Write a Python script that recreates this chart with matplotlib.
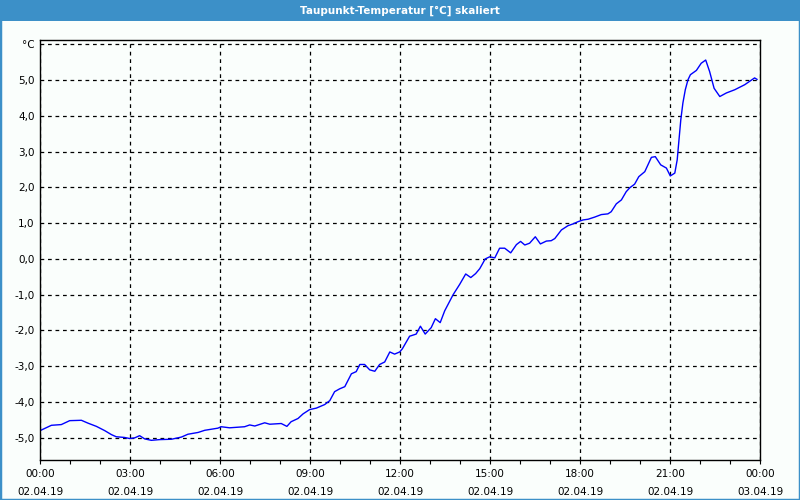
import matplotlib
matplotlib.use("Agg")
import matplotlib.pyplot as plt
from matplotlib.patches import Rectangle

# ---- data (hours since 02.04.19 00:00, dew point in °C) ----
hours = [0.0, 0.38, 0.71, 0.99, 1.38, 1.6, 1.88, 2.16, 2.38, 2.54, 2.82, 2.99,
         3.16, 3.32, 3.49, 3.71, 3.99, 4.38, 4.71, 4.93, 5.27, 5.49, 5.93, 6.04,
         6.32, 6.82, 6.99, 7.16, 7.49, 7.66, 8.04, 8.23, 8.37, 8.6, 8.77, 8.99,
         9.21, 9.49, 9.66, 9.82, 9.99, 10.16, 10.38, 10.54, 10.66, 10.82, 10.99,
         11.16, 11.32, 11.49, 11.66, 11.82, 11.99, 12.08, 12.32, 12.54, 12.68,
         12.84, 13.04, 13.18, 13.34, 13.49, 13.77, 13.99, 14.19, 14.36, 14.52,
         14.66, 14.84, 14.99, 15.16, 15.32, 15.49, 15.69, 15.88, 16.02, 16.16,
         16.32, 16.51, 16.68, 16.88, 17.04, 17.16, 17.38, 17.6, 17.77, 17.93,
         18.1, 18.27, 18.49, 18.71, 18.93, 19.04, 19.21, 19.38, 19.54, 19.66,
         19.82, 19.96, 20.16, 20.38, 20.51, 20.69, 20.88, 21.01, 21.16, 21.24,
         21.29, 21.36, 21.43, 21.51, 21.6, 21.68, 21.88, 22.04, 22.19, 22.32,
         22.47, 22.66, 22.88, 23.16, 23.49, 23.82, 23.9]
dewpoint = [-4.80, -4.65, -4.63, -4.52, -4.51, -4.59, -4.68, -4.80, -4.91, -4.97,
            -4.99, -5.02, -5.00, -4.94, -5.03, -5.07, -5.05, -5.04, -4.98, -4.90,
            -4.85, -4.79, -4.73, -4.69, -4.72, -4.69, -4.64, -4.67, -4.58, -4.62,
            -4.60, -4.68, -4.55, -4.46, -4.33, -4.21, -4.17, -4.07, -3.96, -3.71,
            -3.63, -3.57, -3.21, -3.15, -2.95, -2.95, -3.10, -3.14, -2.95, -2.88,
            -2.60, -2.66, -2.60, -2.51, -2.16, -2.10, -1.88, -2.10, -1.92, -1.67,
            -1.78, -1.45, -1.00, -0.71, -0.42, -0.52, -0.41, -0.27, 0.00, 0.06,
            0.03, 0.30, 0.30, 0.17, 0.40, 0.49, 0.39, 0.44, 0.62, 0.42, 0.50,
            0.51, 0.57, 0.81, 0.93, 0.98, 1.04, 1.09, 1.11, 1.17, 1.24, 1.26,
            1.32, 1.54, 1.65, 1.88, 1.99, 2.09, 2.30, 2.44, 2.84, 2.86, 2.63,
            2.54, 2.32, 2.40, 2.77, 3.24, 3.89, 4.36, 4.73, 5.01, 5.15, 5.27,
            5.47, 5.56, 5.24, 4.77, 4.54, 4.64, 4.73, 4.87, 5.06, 5.02]

x_ticks = [0, 3, 6, 9, 12, 15, 18, 21, 24]
x_tick_labels = ["00:00\n02.04.19", "03:00\n02.04.19", "06:00\n02.04.19",
                 "09:00\n02.04.19", "12:00\n02.04.19", "15:00\n02.04.19",
                 "18:00\n02.04.19", "21:00\n02.04.19", "00:00\n03.04.19"]
y_ticks = [-5, -4, -3, -2, -1, 0, 1, 2, 3, 4, 5, 6]
y_tick_labels = ["-5,0", "-4,0", "-3,0", "-2,0", "-1,0", "0,0", "1,0", "2,0",
                 "3,0", "4,0", "5,0", "°C"]
title = "Taupunkt-Temperatur [°C] skaliert"

plt.rcParams['font.family'] = ['DejaVu Sans']
fig = plt.figure(figsize=(8, 5), dpi=100)
fig.patch.set_facecolor('#FAFEFC')

# border and title bar
fig.patches.append(Rectangle((0, 0), 1, 1, transform=fig.transFigure,
                             facecolor='none', edgecolor='#3C90C8', linewidth=2.5))
fig.patches.append(Rectangle((0, 1 - 21 / 500), 1, 21 / 500, transform=fig.transFigure,
                             facecolor='#3C90C8', edgecolor='none'))
fig.text(0.5, 1 - 10.5 / 500, title, ha='center', va='center', color='white',
         fontsize=7.5, fontweight='bold')

ax = fig.add_axes([40 / 800, 40 / 500, 720 / 800, 420 / 500])
ax.set_facecolor('#FAFEFC')
ax.plot(hours, dewpoint, color='#0000FF', linewidth=1.0)

ax.set_xlim(0, 24)
ax.set_ylim(-5.62, 6.12)
ax.set_xticks(x_ticks)
ax.set_xticklabels(x_tick_labels, fontsize=7.5, linespacing=2.0)
ax.set_xticks(range(0, 25), minor=True)
ax.set_yticks(y_ticks)
ax.set_yticklabels(y_tick_labels, fontsize=7.5)
ax.tick_params(axis='x', which='both', direction='out', length=3, width=0.8, pad=3.5)
ax.tick_params(axis='y', which='both', length=0, pad=4)
ax.grid(True, which='major', color='black', linestyle=(0, (3, 3)), linewidth=0.9)
for s in ax.spines.values():
    s.set_color('black')
    s.set_linewidth(1.0)

fig.savefig('out.png', dpi=100, facecolor=fig.get_facecolor())
